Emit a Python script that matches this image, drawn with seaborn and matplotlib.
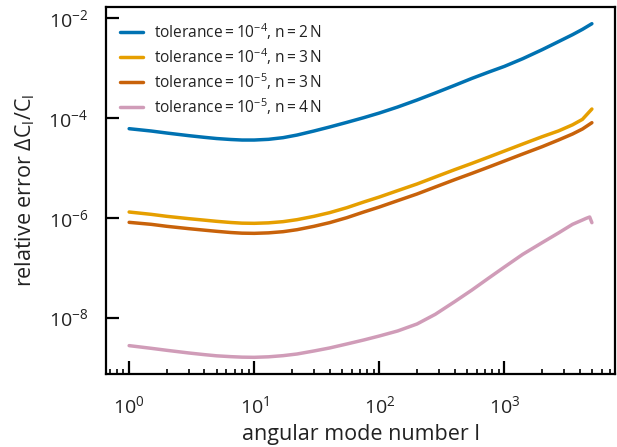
import numpy as np
import pandas as pd
import matplotlib
matplotlib.use("Agg")
import matplotlib.pyplot as plt
from matplotlib.ticker import NullLocator, FixedLocator, LogLocator
import seaborn as sns

# angular mode numbers sampled along each curve
ell = [1, 1.5, 2, 3, 4, 5, 6.5, 8, 10, 13, 17, 22, 30, 40, 55, 75, 100, 140, 200, 280,
       400, 550, 750, 1000, 1400, 2000, 2700, 3500, 4200, 5000]
ell_n4 = [1, 1.5, 2, 3, 4, 5, 6.5, 8, 10, 13, 17, 22, 30, 40, 55, 75, 100, 140, 200, 280,
          400, 550, 750, 1000, 1400, 2000, 2700, 3500, 4200, 4500, 4800, 5000]

# relative error of the C_l for each solver setting
err_tol4_n2 = [6.11e-5, 5.49e-5, 5.00e-5, 4.43e-5, 4.10e-5, 3.88e-5, 3.71e-5, 3.62e-5, 3.62e-5,
               3.74e-5, 4.04e-5, 4.56e-5, 5.49e-5, 6.60e-5, 8.18e-5, 1.016e-4, 1.259e-4,
               1.661e-4, 2.294e-4, 3.17e-4, 4.515e-4, 6.23e-4, 8.35e-4, 1.085e-3, 1.545e-3,
               2.34e-3, 3.39e-3, 4.68e-3, 5.98e-3, 7.77e-3]
err_tol4_n3 = [1.306e-6, 1.173e-6, 1.070e-6, 9.61e-7, 8.97e-7, 8.50e-7, 8.05e-7, 7.81e-7, 7.75e-7,
               7.92e-7, 8.37e-7, 9.18e-7, 1.070e-6, 1.267e-6, 1.595e-6, 2.073e-6, 2.61e-6,
               3.50e-6, 4.76e-6, 6.57e-6, 9.22e-6, 1.234e-5, 1.654e-5, 2.18e-5, 3.01e-5,
               4.22e-5, 5.50e-5, 7.30e-5, 9.40e-5, 1.515e-4]
err_tol5_n3 = [8.11e-7, 7.40e-7, 6.75e-7, 6.06e-7, 5.65e-7, 5.36e-7, 5.07e-7, 4.92e-7, 4.88e-7,
               4.99e-7, 5.27e-7, 5.78e-7, 6.75e-7, 7.99e-7, 1.006e-6, 1.306e-6, 1.645e-6,
               2.205e-6, 3.00e-6, 4.14e-6, 5.81e-6, 7.78e-6, 1.042e-5, 1.375e-5, 1.900e-5,
               2.66e-5, 3.62e-5, 4.78e-5, 6.02e-5, 8.06e-5]
err_tol5_n4 = [2.740e-9, 2.422e-9, 2.208e-9, 1.953e-9, 1.808e-9, 1.713e-9, 1.648e-9, 1.611e-9,
               1.598e-9, 1.636e-9, 1.726e-9, 1.864e-9, 2.141e-9, 2.459e-9, 2.958e-9, 3.556e-9,
               4.277e-9, 5.39e-9, 7.44e-9, 1.163e-8, 2.086e-8, 3.573e-8, 6.22e-8, 1.033e-7,
               1.853e-7, 3.175e-7, 4.96e-7, 7.40e-7, 9.03e-7, 9.75e-7, 1.037e-6, 7.99e-7]

sp = "\u2009"
labels = [
    f"tolerance{sp}={sp}$10^{{-4}}$, n{sp}={sp}2{sp}N",
    f"tolerance{sp}={sp}$10^{{-4}}$, n{sp}={sp}3{sp}N",
    f"tolerance{sp}={sp}$10^{{-5}}$, n{sp}={sp}3{sp}N",
    f"tolerance{sp}={sp}$10^{{-5}}$, n{sp}={sp}4{sp}N",
]
colors = ["#0072B2", "#E69F00", "#C8620A", "#D09CB8"]

frames = []
for lab, x, y in zip(labels, [ell, ell, ell, ell_n4],
                     [err_tol4_n2, err_tol4_n3, err_tol5_n3, err_tol5_n4]):
    frames.append(pd.DataFrame({"l": x, "err": y, "setting": lab}))
df = pd.concat(frames, ignore_index=True)

sns.set_theme(style="ticks")
font = "Open Sans"
plt.rcParams["font.family"] = [font, "DejaVu Sans"]
plt.rcParams["mathtext.fontset"] = "custom"
plt.rcParams["mathtext.rm"] = font
plt.rcParams["mathtext.it"] = font + ":italic"
plt.rcParams["mathtext.bf"] = font + ":bold"
plt.rcParams["mathtext.default"] = "regular"
text_color = "#222222"

fig = plt.figure(figsize=(6.17, 4.47), dpi=100)
ax = fig.add_axes([0.1718, 0.1633, 0.825, 0.821])

sns.lineplot(data=df, x="l", y="err", hue="setting", hue_order=labels,
             palette=dict(zip(labels, colors)), linewidth=2.5, sort=False,
             estimator=None, ax=ax)

ax.set_xscale("log")
ax.set_yscale("log")
ax.margins(x=0.05, y=0.05)

ax.yaxis.set_major_locator(FixedLocator([1e-8, 1e-6, 1e-4, 1e-2]))
ax.yaxis.set_minor_locator(NullLocator())
ax.xaxis.set_major_locator(LogLocator(base=10, numticks=10))
ax.xaxis.set_minor_locator(LogLocator(base=10, subs=np.arange(2, 10), numticks=20))

for side in ["left", "bottom", "top", "right"]:
    ax.spines[side].set_linewidth(1.6)
    ax.spines[side].set_color("black")

ax.tick_params(which="major", direction="in", length=9.5, width=1.6, colors="black",
               labelsize=14, labelcolor=text_color, pad=13, top=False, right=False)
ax.tick_params(axis="x", which="major", pad=15)
ax.tick_params(which="minor", direction="in", length=3.5, width=1.2, colors="black",
               top=False, right=False)

ax.set_xlabel("angular mode number l", fontsize=15.5, color=text_color, labelpad=5)
ax.set_ylabel("relative error $\\Delta C_l/C_l$", fontsize=15.5, color=text_color, labelpad=8)

leg = ax.legend(loc="upper left", frameon=False, fontsize=11.2, handlelength=1.45,
                handletextpad=0.75, labelspacing=0.28, borderaxespad=0.5)
for t in leg.get_texts():
    t.set_color(text_color)

fig.savefig("out.png", dpi=100)
